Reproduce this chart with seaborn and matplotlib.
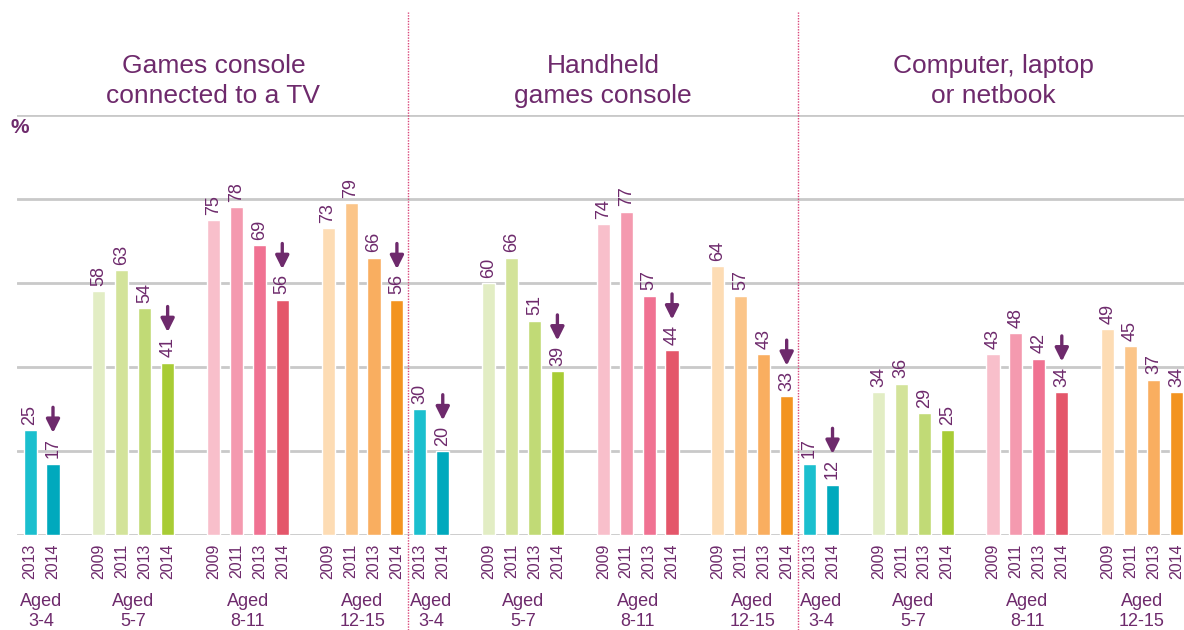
import pandas as pd
import matplotlib
matplotlib.use("Agg")
import matplotlib.pyplot as plt
import seaborn as sns

OUTPUT_FILE = "out.png"

# chart data
PANEL_TITLES = ["Games console\nconnected to a TV", "Handheld\ngames console", "Computer, laptop\nor netbook"]
AGE_GROUPS = ["Aged\n3-4", "Aged\n5-7", "Aged\n8-11", "Aged\n12-15"]
GROUP_YEARS = [["2013", "2014"],
               ["2009", "2011", "2013", "2014"],
               ["2009", "2011", "2013", "2014"],
               ["2009", "2011", "2013", "2014"]]

games_console_tv = [[25, 17], [58, 63, 54, 41], [75, 78, 69, 56], [73, 79, 66, 56]]
handheld_console = [[30, 20], [60, 66, 51, 39], [74, 77, 57, 44], [64, 57, 43, 33]]
computer_laptop = [[17, 12], [34, 36, 29, 25], [43, 48, 42, 34], [49, 45, 37, 34]]

# down arrow = significant decrease in 2014
tv_decrease = [True, True, True, True]
handheld_decrease = [True, True, True, True]
computer_decrease = [True, False, True, False]

PANEL_VALUES = [games_console_tv, handheld_console, computer_laptop]
PANEL_DECREASE = [tv_decrease, handheld_decrease, computer_decrease]

# styling
GROUP_COLOURS = [["#1BBFCE", "#00A9BD"],
                 ["#E2EDC4", "#D3E39A", "#C1DA76", "#A8CC35"],
                 ["#F8BFCB", "#F49AAF", "#F07292", "#E4566A"],
                 ["#FDDCB4", "#FBC589", "#F9AE60", "#F39420"]]
PURPLE = "#6E2A6C"
GRID = "#C9C9C9"
DIVIDER = "#D9477A"
GROUP_START = [0, 3, 8, 13]   # slot of first bar in each age group
PANEL_SLOTS = 17


def build_frame():
    rows = []
    for p, panel_vals in enumerate(PANEL_VALUES):
        for g, vals in enumerate(panel_vals):
            for i, v in enumerate(vals):
                rows.append({
                    "pos": p * PANEL_SLOTS + GROUP_START[g] + i,
                    "value": v,
                    "year": GROUP_YEARS[g][i],
                    "colour": GROUP_COLOURS[g][i],
                    "panel": p,
                    "group": g,
                    "is_last": i == len(vals) - 1,
                })
    return pd.DataFrame(rows)


df = build_frame()

sns.set_style("white")
plt.rcParams["font.family"] = ["Liberation Sans", "DejaVu Sans"]

fig = plt.figure(figsize=(11.84, 6.3), dpi=100)
ax = fig.add_axes([17 / 1184, 95 / 630, 1 - 17 / 1184, 420 / 630])

sns.barplot(data=df, x="pos", y="value", hue="colour",
            palette={c: c for c in df["colour"].unique()},
            native_scale=True, dodge=False, width=0.57, saturation=1,
            errorbar=None, legend=False, ax=ax, zorder=3)

ax.set_xlim(-0.57, 50.33)
ax.set_ylim(0, 100)
ax.set_yticks(range(0, 101, 20))
ax.set_yticklabels([])
ax.yaxis.grid(True, color=GRID, linewidth=2)
ax.xaxis.grid(False)
ax.set_axisbelow(True)
for s in ax.spines.values():
    s.set_visible(False)
ax.set_xlabel("")
ax.set_ylabel("")
ax.tick_params(length=0)
ax.set_xticks(df["pos"], labels=df["year"], rotation=90, fontsize=11.5, color=PURPLE)
ax.tick_params(axis="x", pad=6, colors=PURPLE)

# value labels and arrows
for _, r in df.iterrows():
    ax.text(r["pos"], r["value"] + 1.3, str(r["value"]), rotation=90,
            ha="center", va="bottom", fontsize=13, color=PURPLE)
    if r["is_last"] and PANEL_DECREASE[r["panel"]][r["group"]]:
        ax.annotate("", xy=(r["pos"], r["value"] + 7.3),
                    xytext=(r["pos"], r["value"] + 13.4),
                    arrowprops=dict(arrowstyle="-|>", color=PURPLE, lw=2.4,
                                    mutation_scale=20, shrinkA=0, shrinkB=0))

# age group labels
for p in range(3):
    for g, label in enumerate(AGE_GROUPS):
        centre = p * PANEL_SLOTS + GROUP_START[g] + (len(GROUP_YEARS[g]) - 1) / 2
        ax.text(centre, -18.3, label, ha="center", va="center", fontsize=13,
                color=PURPLE, linespacing=1.25)
    ax.text(p * PANEL_SLOTS + 8, 108.1, PANEL_TITLES[p], ha="center", va="center",
            fontsize=19, color=PURPLE, linespacing=1.3)

# panel dividers
for p in (1, 2):
    ax.plot([p * PANEL_SLOTS - 0.5] * 2, [-22.6, 124.5], color=DIVIDER, lw=1,
            linestyle=(0, (1, 1)), clip_on=False)

ax.text(-0.44, 97.1, "%", ha="center", va="center", fontsize=15,
        fontweight="bold", color=PURPLE)

fig.savefig(OUTPUT_FILE, dpi=100)
plt.close(fig)
